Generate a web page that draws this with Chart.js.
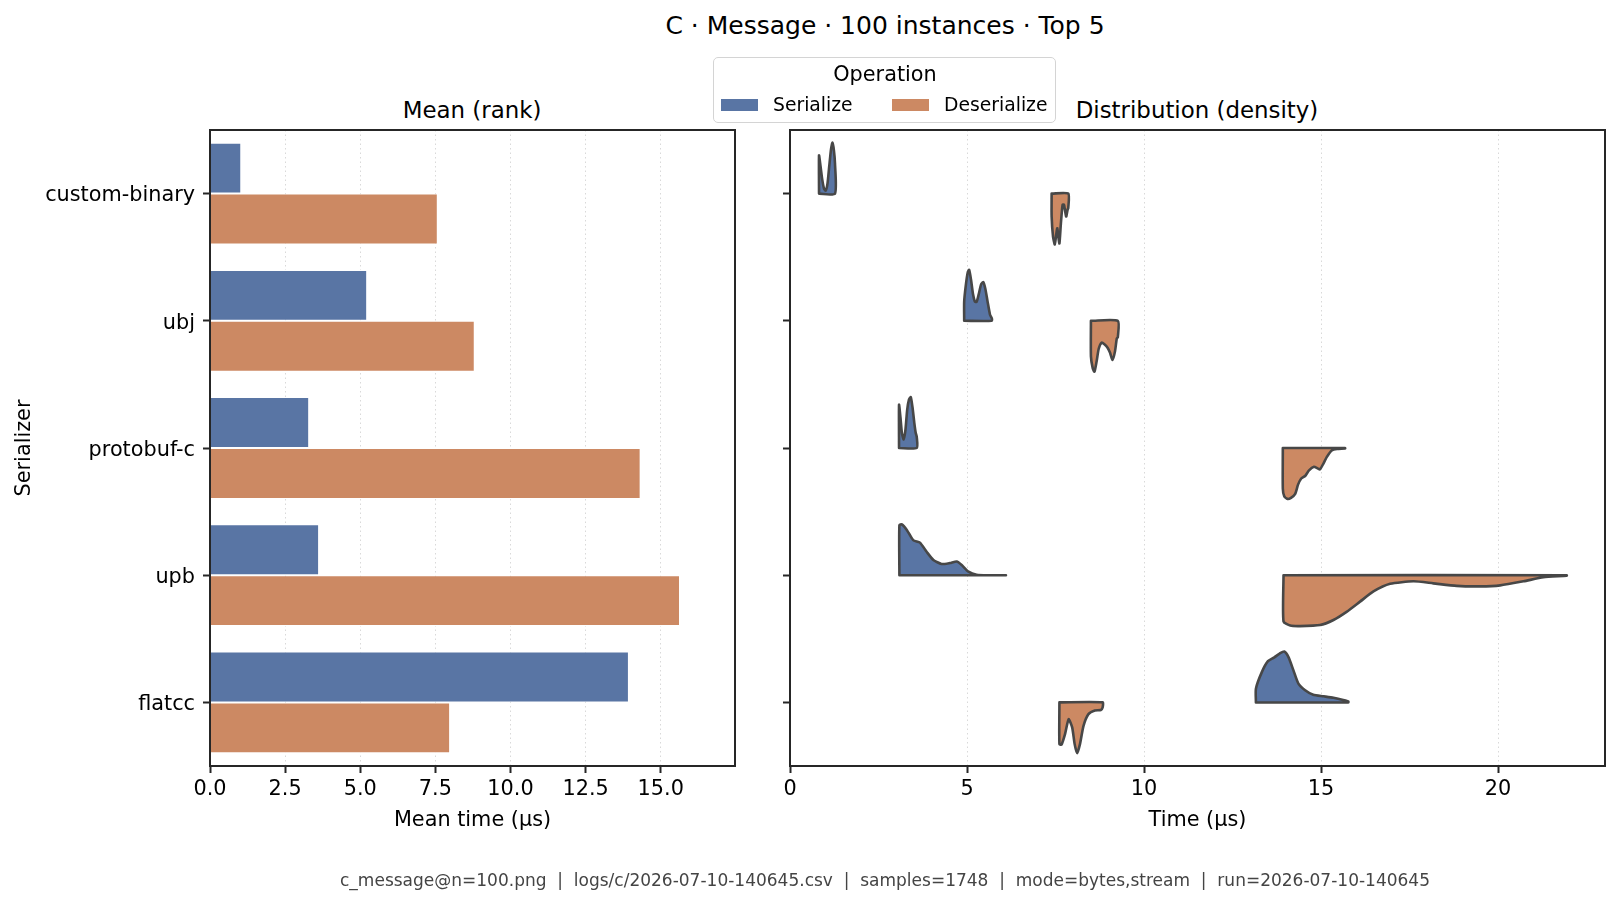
<!DOCTYPE html>
<html>
<head>
<meta charset="utf-8">
<script src="https://cdn.jsdelivr.net/npm/chart.js@4.4.1/dist/chart.umd.min.js"></script>
<style>
  html, body { margin: 0; padding: 0; background: #fff; }
  body { width: 1619px; height: 905px; position: relative; overflow: hidden; font-family: "DejaVu Sans", sans-serif; color: #000; }
  canvas { position: absolute; top: 0; }
  .txt { position: absolute; transform: translate(-50%, -50%); line-height: 1; white-space: pre; }
  #legend { position: absolute; left: 713px; top: 57px; width: 341px; height: 64px; border: 1.5px solid #d4d4d4; border-radius: 5px; background: rgba(255,255,255,0.85); }
  .patch { position: absolute; width: 37px; height: 12px; }
  .ltxt { position: absolute; font-size: 18.75px; line-height: 1; transform: translateY(-50%); }
</style>
</head>
<body>
<div class="txt" style="left:885px; top:25px; font-size:25px;">C · Message · 100 instances · Top 5</div>
<div class="txt" style="left:472px; top:110px; font-size:22.9px;">Mean (rank)</div>
<div class="txt" style="left:1197px; top:110px; font-size:22.9px;">Distribution (density)</div>

<canvas id="meanChart" width="760" height="905" style="left:0px;"></canvas>
<canvas id="densityChart" width="859" height="905" style="left:760px;"></canvas>

<div id="legend">
  <div class="txt" style="left:171px; top:16px; font-size:20.8px;">Operation</div>
  <div class="patch" style="left:7px; top:41px; background:#5975a4;"></div>
  <div class="ltxt" style="left:59px; top:47px;">Serialize</div>
  <div class="patch" style="left:178px; top:41px; background:#cc8963;"></div>
  <div class="ltxt" style="left:230px; top:47px;">Deserialize</div>
</div>

<div class="txt" style="left:885px; top:880px; font-size:17px; color:#444;">c_message@n=100.png  |  logs/c/2026-07-10-140645.csv  |  samples=1748  |  mode=bytes,stream  |  run=2026-07-10-140645</div>

<script>
const serializers = ['custom-binary', 'ubj', 'protobuf-c', 'upb', 'flatcc'];
const meanSerialize = [1.04, 5.23, 3.30, 3.63, 13.94];
const meanDeserialize = [7.58, 8.81, 14.33, 15.64, 7.99];
const meanTicks = [0, 2.5, 5, 7.5, 10, 12.5, 15];
const timeTicks = [0, 5, 10, 15, 20];

// density outlines, one row per serializer (time in µs, density scaled to 1 = tallest)
const serTime = [
  [0.82, 0.86, 0.91, 0.96, 1.01, 1.06, 1.11, 1.16, 1.20, 1.24, 1.27],
  [4.92, 4.97, 5.02, 5.06, 5.11, 5.17, 5.22, 5.27, 5.33, 5.40, 5.46, 5.52, 5.58, 5.65, 5.70],
  [3.08, 3.12, 3.16, 3.21, 3.26, 3.31, 3.36, 3.41, 3.46, 3.51, 3.55, 3.58],
  [3.09, 3.16, 3.30, 3.48, 3.67, 3.86, 4.05, 4.28, 4.52, 4.71, 4.85, 5.04, 5.27, 5.60, 6.10],
  [13.16, 13.33, 13.50, 13.67, 13.83, 13.96, 14.08, 14.22, 14.36, 14.55, 14.78, 15.07, 15.35, 15.77]
];
const serDensity = [
  [0.75, 0.55, 0.28, 0.10, 0.06, 0.20, 0.55, 0.88, 1.00, 0.85, 0.60],
  [0.38, 0.72, 0.95, 1.00, 0.82, 0.52, 0.38, 0.37, 0.52, 0.72, 0.76, 0.62, 0.38, 0.12, 0.05],
  [0.85, 0.60, 0.30, 0.17, 0.35, 0.75, 0.95, 1.00, 0.80, 0.50, 0.30, 0.22],
  [0.98, 1.00, 0.89, 0.69, 0.64, 0.46, 0.30, 0.22, 0.24, 0.27, 0.20, 0.07, 0.01, 0.00, 0.00],
  [0.27, 0.60, 0.81, 0.88, 0.96, 1.00, 0.89, 0.63, 0.37, 0.24, 0.15, 0.12, 0.09, 0.02]
];
const deserTime = [
  [7.39, 7.43, 7.48, 7.52, 7.55, 7.58, 7.61, 7.65, 7.70, 7.74, 7.80, 7.84, 7.86],
  [8.50, 8.55, 8.60, 8.66, 8.72, 8.80, 8.88, 8.97, 9.04, 9.11, 9.18, 9.23, 9.26],
  [13.92, 13.96, 14.05, 14.15, 14.27, 14.35, 14.44, 14.55, 14.66, 14.80, 14.90, 14.97, 15.07, 15.16, 15.30, 15.45, 15.68],
  [13.94, 14.13, 14.41, 14.97, 15.35, 15.72, 16.10, 16.48, 16.95, 17.61, 18.17, 18.83, 19.49, 20.06, 20.72, 21.28, 21.94],
  [7.61, 7.67, 7.77, 7.87, 7.97, 8.04, 8.11, 8.19, 8.29, 8.43, 8.61, 8.78, 8.83]
];
const deserDensity = [
  [0.45, 0.85, 1.00, 0.80, 0.68, 0.85, 0.98, 0.60, 0.22, 0.22, 0.45, 0.32, 0.28],
  [0.70, 0.93, 1.00, 0.80, 0.55, 0.43, 0.46, 0.53, 0.63, 0.77, 0.60, 0.35, 0.32],
  [0.80, 0.95, 1.00, 0.98, 0.90, 0.72, 0.60, 0.55, 0.44, 0.37, 0.40, 0.42, 0.30, 0.18, 0.05, 0.02, 0.01],
  [0.91, 0.99, 1.00, 0.98, 0.88, 0.72, 0.52, 0.32, 0.17, 0.12, 0.16, 0.21, 0.22, 0.20, 0.12, 0.04, 0.01],
  [0.82, 0.83, 0.62, 0.33, 0.49, 0.82, 1.00, 0.82, 0.46, 0.23, 0.16, 0.15, 0.10]
];

const BLUE = '#5975a4';
const ORANGE = '#cc8963';
const INK = '#262626';
const HALF = 0.4;

Chart.defaults.font.family = "'DejaVu Sans', sans-serif";
Chart.defaults.color = '#000';

// matplotlib draws all four spines
const frame = {
  id: 'frame',
  afterDraw(chart) {
    const { ctx, chartArea: a } = chart;
    ctx.save();
    ctx.strokeStyle = INK;
    ctx.lineWidth = 2;
    ctx.strokeRect(a.left, a.top, a.right - a.left, a.bottom - a.top);
    ctx.restore();
  }
};

// fill each closed density outline before its edge is stroked
const shapeFill = {
  id: 'shapeFill',
  beforeDatasetDraw(chart, args) {
    const el = args.meta.dataset;
    if (!el || !el.points || !el.points.length) return;
    const ctx = chart.ctx;
    el.updateControlPoints(chart.chartArea, 'x');
    ctx.save();
    ctx.beginPath();
    el.path(ctx);
    ctx.closePath();
    ctx.fillStyle = el.options.backgroundColor;
    ctx.fill();
    ctx.restore();
  }
};

const tickFont = { size: 20.8 };
const xGrid = { color: '#d9d9d9', lineWidth: 1, tickColor: INK, tickWidth: 2, tickLength: 7 };
const xBorder = { color: INK, width: 2, dash: [1.5, 3] };

new Chart(document.getElementById('meanChart'), {
  type: 'bar',
  data: {
    labels: serializers,
    datasets: [
      { label: 'Serialize', data: meanSerialize, backgroundColor: BLUE, borderColor: '#fff', borderWidth: 1 },
      { label: 'Deserialize', data: meanDeserialize, backgroundColor: ORANGE, borderColor: '#fff', borderWidth: 1 }
    ]
  },
  options: {
    indexAxis: 'y',
    responsive: false,
    animation: false,
    datasets: { bar: { categoryPercentage: 0.8, barPercentage: 1.0 } },
    layout: { padding: { top: 130, right: 25, bottom: 0, left: 0 } },
    plugins: { legend: { display: false }, tooltip: { enabled: false } },
    scales: {
      x: {
        type: 'linear', min: 0, max: 17.47,
        afterBuildTicks: s => { s.ticks = meanTicks.map(v => ({ value: v })); },
        afterFit: s => { s.height = 139; },
        ticks: { callback: v => Number(v).toFixed(1), font: tickFont, color: '#000', padding: 4, maxRotation: 0 },
        grid: xGrid,
        border: xBorder,
        title: { display: true, text: 'Mean time (µs)', font: tickFont, color: '#000', padding: { top: 0, bottom: 72 } }
      },
      y: {
        afterFit: s => { s.width = 210; },
        ticks: { font: tickFont, color: '#000', padding: 8, labelOffset: 2.5 },
        grid: { offset: false, drawOnChartArea: false, tickColor: INK, tickWidth: 2, tickLength: 7 },
        border: { color: INK, width: 2 },
        title: { display: true, text: 'Serializer', font: tickFont, color: '#000', padding: { top: 12, bottom: 0 } }
      }
    }
  },
  plugins: [frame]
});

function halfViolin(times, dens, base, dir, color) {
  const pts = [{ x: times[0], y: base }];
  times.forEach((t, k) => pts.push({ x: t, y: base + dir * HALF * dens[k] }));
  pts.push({ x: times[times.length - 1], y: base });
  pts.push({ x: times[0], y: base });
  return {
    data: pts,
    backgroundColor: color,
    borderColor: '#474747',
    borderWidth: 2.6,
    borderJoinStyle: 'round',
    borderCapStyle: 'round',
    pointRadius: 0,
    tension: 0.2,
    fill: false
  };
}

const densitySets = [];
serializers.forEach((name, i) => {
  densitySets.push(halfViolin(serTime[i], serDensity[i], i, -1, BLUE));
  densitySets.push(halfViolin(deserTime[i], deserDensity[i], i, 1, ORANGE));
});

new Chart(document.getElementById('densityChart'), {
  type: 'line',
  data: { datasets: densitySets },
  options: {
    responsive: false,
    animation: false,
    layout: { padding: { top: 130, right: 14, bottom: 0, left: 0 } },
    plugins: { legend: { display: false }, tooltip: { enabled: false } },
    scales: {
      x: {
        type: 'linear', min: 0, max: 23.02,
        afterBuildTicks: s => { s.ticks = timeTicks.map(v => ({ value: v })); },
        afterFit: s => { s.height = 139; },
        ticks: { callback: v => String(v), font: tickFont, color: '#000', padding: 4, maxRotation: 0 },
        grid: xGrid,
        border: xBorder,
        title: { display: true, text: 'Time (µs)', font: tickFont, color: '#000', padding: { top: 0, bottom: 72 } }
      },
      y: {
        type: 'linear', min: -0.5, max: 4.5, reverse: true,
        afterBuildTicks: s => { s.ticks = serializers.map((n, i) => ({ value: i })); },
        afterFit: s => { s.width = 30; },
        ticks: { callback: () => '', padding: 0 },
        grid: { drawOnChartArea: false, tickColor: INK, tickWidth: 2, tickLength: 7 },
        border: { color: INK, width: 2 }
      }
    }
  },
  plugins: [frame, shapeFill]
});
</script>
</body>
</html>
